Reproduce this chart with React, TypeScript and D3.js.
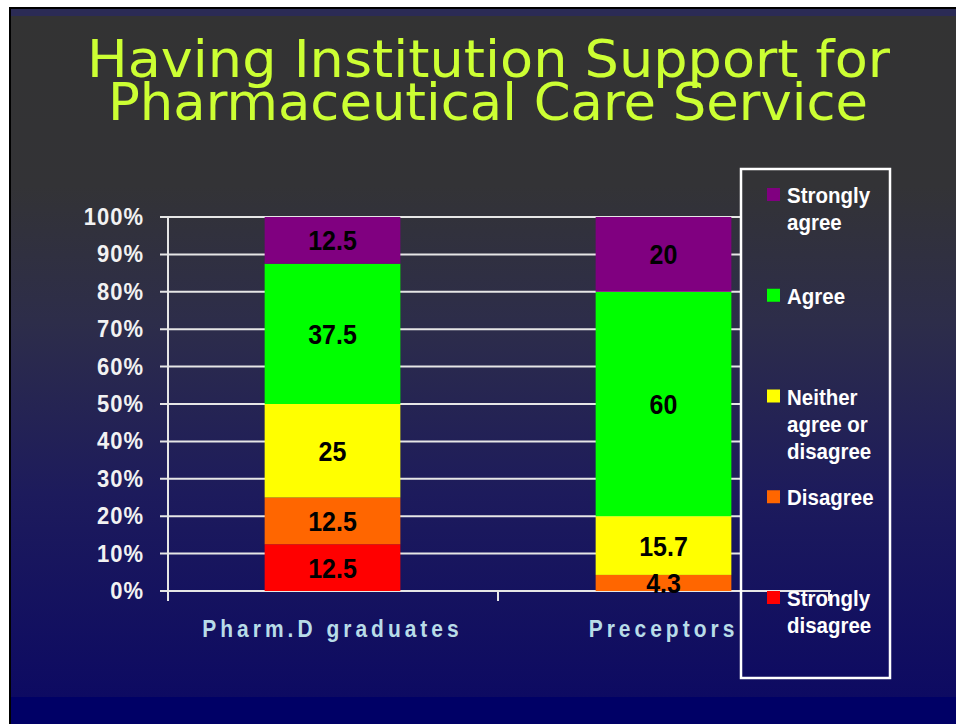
import React from "react";
import * as d3 from "d3";

const categories = ["Pharm.D graduates", "Preceptors"];
const seriesNames = ["Strongly disagree", "Disagree", "Neither agree or disagree", "Agree", "Strongly agree"];
const stronglyDisagree = [12.5, 0];
const disagree = [12.5, 4.3];
const neither = [25, 15.7];
const agree = [37.5, 60];
const stronglyAgree = [12.5, 20];
const seriesColors = ["#ff0000", "#ff6600", "#ffff00", "#00ff00", "#800080"];
const yTicks = [0, 10, 20, 30, 40, 50, 60, 70, 80, 90, 100];
const legendLines: string[][] = [
  ["Strongly", "agree"],
  ["Agree"],
  ["Neither", "agree or", "disagree"],
  ["Disagree"],
  ["Strongly", "disagree"],
];
const titleLines = ["Having Institution Support for", "Pharmaceutical Care Service"];

const W = 956;
const H = 724;

export default function App() {
  const rows = categories.map((c, i) => ({
    cat: c,
    s0: stronglyDisagree[i],
    s1: disagree[i],
    s2: neither[i],
    s3: agree[i],
    s4: stronglyAgree[i],
  }));
  const keys = ["s0", "s1", "s2", "s3", "s4"];
  const stacked = d3.stack<any>().keys(keys)(rows);

  const y = d3.scaleLinear().domain([0, 100]).range([591, 217]);
  const x = d3.scaleBand<string>().domain(categories).range([167, 829]).padding(0);
  const barW = x.bandwidth() * 0.41;
  const font = "'Liberation Sans', Arial, sans-serif";
  const sy = 1.12;

  const legendOrder = [4, 3, 2, 1, 0];

  return (
    <svg width={W} height={H} style={{ position: "absolute", left: 0, top: 0 }}>
      <defs>
        <linearGradient id="bg" x1="0" y1="0" x2="0" y2="1">
          <stop offset="0" stopColor="#333333" />
          <stop offset="0.25" stopColor="#333336" />
          <stop offset="0.45" stopColor="#2d2d4a" />
          <stop offset="0.7" stopColor="#1d1b5c" />
          <stop offset="1" stopColor="#0d0a62" />
        </linearGradient>
      </defs>
      <rect x={0} y={0} width={W} height={H} fill="#ffffff" />
      <rect x={9} y={7} width={W - 9} height={H - 7} fill="#000000" />
      <rect x={11} y={9} width={W - 11} height={7} fill="#2b2b55" />
      <rect x={11} y={16} width={W - 11} height={681} fill="url(#bg)" />
      <rect x={11} y={697} width={W - 11} height={H - 697} fill="#000066" />

      {/* Title */}
      {titleLines.map((t, i) => (
        <text
          key={t}
          x={i === 0 ? 87 : 108}
          y={i === 0 ? 77 : 120}
          textLength={i === 0 ? 803 : 760}
          lengthAdjust="spacingAndGlyphs"
          fill="#ccff33"
          fontFamily="'DejaVu Sans', Verdana, sans-serif"
          fontSize={51}
        >
          {t}
        </text>
      ))}

      {/* gridlines */}
      {yTicks.map((t) => (
        <line
          key={t}
          x1={160}
          x2={t === 0 ? 831 : 740}
          y1={y(t)}
          y2={y(t)}
          stroke="#e6e6e6"
          strokeWidth={2}
        />
      ))}
      {/* y axis */}
      <line x1={168} x2={168} y1={y(100)} y2={601} stroke="#e6e6e6" strokeWidth={2} />
      {/* x ticks */}
      {[...categories.map((c) => x(c) as number), 829].map((v, i) => (
        <line key={i} x1={v + (i === 0 ? 1 : 0)} x2={v + (i === 0 ? 1 : 0)} y1={591} y2={601} stroke="#e6e6e6" strokeWidth={2} />
      ))}

      {/* y tick labels */}
      {yTicks.map((t) => (
        <text
          key={t}
          transform={`translate(144,${y(t) + 8}) scale(1,${sy})`}
          textAnchor="end"
          fill="#f2f2f2"
          fontFamily={font}
          fontWeight="bold"
          fontSize={22}
          letterSpacing={1}
        >
          {t + "%"}
        </text>
      ))}

      {/* bars */}
      {stacked.map((layer, si) =>
        layer.map((d, ci) => {
          const cat = categories[ci];
          const x0 = (x(cat) as number) + (x.bandwidth() - barW) / 2;
          const v = d[1] - d[0];
          if (v <= 0) return null;
          return (
            <rect
              key={si + "-" + ci}
              x={x0}
              y={y(d[1])}
              width={barW}
              height={y(d[0]) - y(d[1])}
              fill={seriesColors[si]}
            />
          );
        })
      )}
      {/* data labels */}
      {stacked.map((layer, si) =>
        layer.map((d, ci) => {
          const cat = categories[ci];
          const cx = (x(cat) as number) + x.bandwidth() / 2;
          const v = d[1] - d[0];
          if (v <= 0) return null;
          return (
            <text
              key={"l" + si + "-" + ci}
              transform={`translate(${cx},${(y(d[0]) + y(d[1])) / 2 + 10}) scale(1,${sy})`}
              textAnchor="middle"
              fill="#000000"
              fontFamily={font}
              fontWeight="bold"
              fontSize={25}
            >
              {String(v)}
            </text>
          );
        })
      )}

      {/* category labels */}
      {categories.map((c) => (
        <text
          key={c}
          transform={`translate(${(x(c) as number) + x.bandwidth() / 2},637) scale(1,1.15)`}
          textAnchor="middle"
          fill="#b8dce8"
          fontFamily={font}
          fontWeight="bold"
          fontSize={21}
          letterSpacing={4}
        >
          {c}
        </text>
      ))}

      {/* legend */}
      <rect x={741} y={169} width={149} height={509} fill="none" stroke="#ffffff" strokeWidth={2.5} />
      {legendOrder.map((si, i) => {
        const top = 188 + i * 100.75;
        return (
          <g key={seriesNames[si]}>
            <rect x={767} y={top} width={13} height={13} fill={seriesColors[si]} />
            {legendLines[i].map((ln, li) => (
              <text
                key={li}
                transform={`translate(787,${top + 15 + li * 27}) scale(1,${sy})`}
                fill="#ffffff"
                fontFamily={font}
                fontWeight="bold"
                fontSize={20.5}
              >
                {ln}
              </text>
            ))}
          </g>
        );
      })}
    </svg>
  );
}
